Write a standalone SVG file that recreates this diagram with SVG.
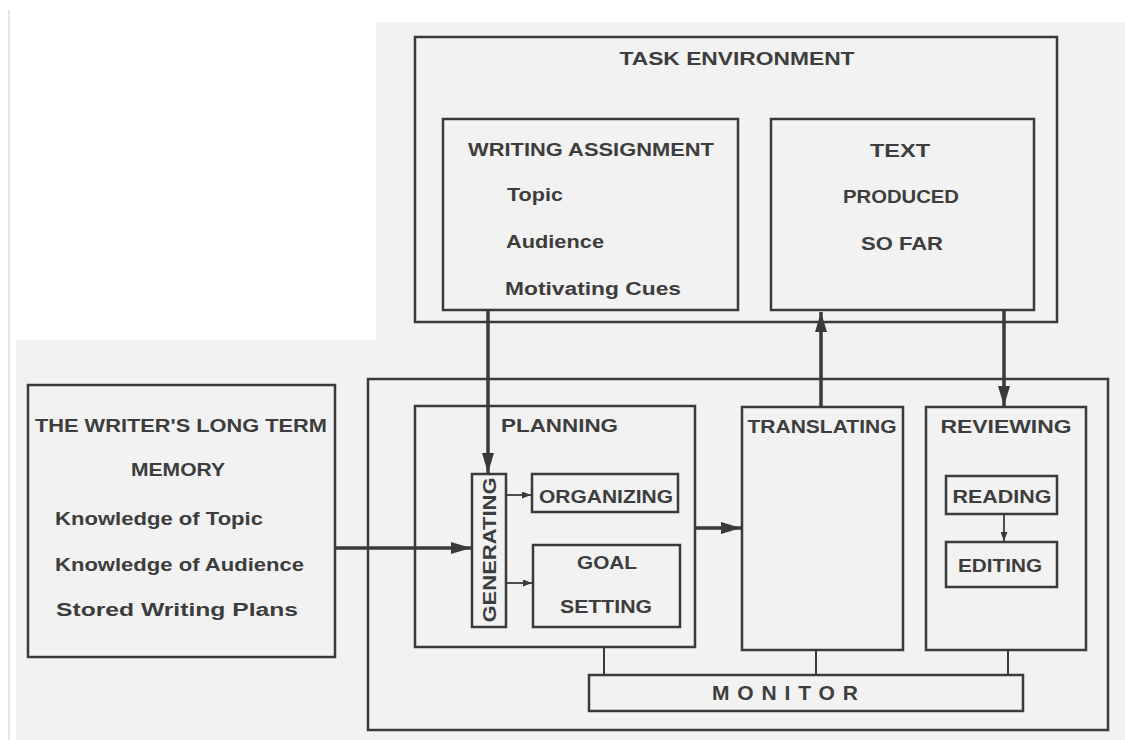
<svg xmlns="http://www.w3.org/2000/svg" width="1125" height="740" viewBox="0 0 1125 740">
<defs>
<style>
.box{fill:none;stroke:#3a3a3a;stroke-width:2.5}
.wire{fill:none;stroke:#3a3a3a;stroke-width:2}
.thick{fill:none;stroke:#3a3a3a;stroke-width:3.5}
.thin{fill:none;stroke:#3a3a3a;stroke-width:1.8}
text{font-family:"Liberation Sans",Arial,sans-serif;fill:#3d3d3d;font-weight:bold}
.cap{font-size:19px}
.low{font-size:18px}
.mon{font-size:21px}
</style>
<marker id="big" viewBox="0 0 20 12" refX="20" refY="6" markerWidth="20" markerHeight="12" markerUnits="userSpaceOnUse" orient="auto">
<path d="M0,0 L20,6 L0,12 z" fill="#3a3a3a"/>
</marker>
<marker id="small" viewBox="0 0 9 7" refX="9" refY="3.5" markerWidth="9" markerHeight="7" markerUnits="userSpaceOnUse" orient="auto">
<path d="M0,0 L9,3.5 L0,7 z" fill="#3a3a3a"/>
</marker>
</defs>
<rect x="0" y="0" width="1125" height="740" fill="#ffffff"/>
<rect x="376" y="22" width="749" height="718" fill="#f2f2f2"/>
<rect x="16" y="340" width="362" height="400" fill="#f2f2f2"/>
<line x1="9" y1="10" x2="9" y2="740" stroke="#dddddd" stroke-width="1.5"/>

<g id="task-environment">
<rect class="box" x="415" y="37" width="642" height="285"/>
<text class="cap" x="737" y="65" text-anchor="middle" textLength="235" lengthAdjust="spacingAndGlyphs">TASK ENVIRONMENT</text>
</g>
<g id="writing-assignment">
<rect class="box" x="443" y="119" width="295" height="191"/>
<text class="cap" x="468" y="156" textLength="246" lengthAdjust="spacingAndGlyphs">WRITING ASSIGNMENT</text>
<text class="low" x="507" y="201" textLength="56" lengthAdjust="spacingAndGlyphs">Topic</text>
<text class="low" x="506" y="248" textLength="98" lengthAdjust="spacingAndGlyphs">Audience</text>
<text class="low" x="505" y="295" textLength="176" lengthAdjust="spacingAndGlyphs">Motivating Cues</text>
</g>
<g id="text-produced">
<rect class="box" x="771" y="119" width="263" height="191"/>
<text class="cap" x="900" y="157" text-anchor="middle" textLength="60" lengthAdjust="spacingAndGlyphs">TEXT</text>
<text class="cap" x="901" y="203" text-anchor="middle" textLength="116" lengthAdjust="spacingAndGlyphs">PRODUCED</text>
<text class="cap" x="902" y="250" text-anchor="middle" textLength="82" lengthAdjust="spacingAndGlyphs">SO FAR</text>
</g>
<g id="long-term-memory">
<rect class="box" x="28" y="385" width="307" height="272"/>
<text class="cap" x="181" y="432" text-anchor="middle" textLength="292" lengthAdjust="spacingAndGlyphs">THE WRITER'S LONG TERM</text>
<text class="cap" x="178" y="476" text-anchor="middle" textLength="94" lengthAdjust="spacingAndGlyphs">MEMORY</text>
<text class="low" x="55" y="525" textLength="208" lengthAdjust="spacingAndGlyphs">Knowledge of Topic</text>
<text class="low" x="55" y="571" textLength="249" lengthAdjust="spacingAndGlyphs">Knowledge of Audience</text>
<text class="low" x="56" y="616" textLength="242" lengthAdjust="spacingAndGlyphs">Stored Writing Plans</text>
</g>
<g id="writing-process">
<rect class="box" x="368" y="379" width="740" height="351"/>
</g>
<g id="planning">
<rect class="box" x="415" y="406" width="280" height="241"/>
<text class="cap" x="501" y="432" textLength="117" lengthAdjust="spacingAndGlyphs">PLANNING</text>
</g>
<g id="generating">
<rect class="box" x="472" y="474" width="34" height="153"/>
<text class="cap" transform="translate(496,550) rotate(-90)" x="0" y="0" text-anchor="middle" textLength="145" lengthAdjust="spacingAndGlyphs">GENERATING</text>
</g>
<g id="organizing">
<rect class="box" x="532" y="474" width="146" height="38"/>
<text class="cap" x="606" y="503" text-anchor="middle" textLength="134" lengthAdjust="spacingAndGlyphs">ORGANIZING</text>
</g>
<g id="goal-setting">
<rect class="box" x="533" y="545" width="147" height="82"/>
<text class="cap" x="607" y="569" text-anchor="middle" textLength="60" lengthAdjust="spacingAndGlyphs">GOAL</text>
<text class="cap" x="606" y="613" text-anchor="middle" textLength="92" lengthAdjust="spacingAndGlyphs">SETTING</text>
</g>
<g id="translating">
<rect class="box" x="742" y="407" width="161" height="243"/>
<text class="cap" x="822" y="433" text-anchor="middle" textLength="149" lengthAdjust="spacingAndGlyphs">TRANSLATING</text>
</g>
<g id="reviewing">
<rect class="box" x="926" y="407" width="160" height="243"/>
<text class="cap" x="1006" y="433" text-anchor="middle" textLength="131" lengthAdjust="spacingAndGlyphs">REVIEWING</text>
</g>
<g id="reading">
<rect class="box" x="946" y="476" width="111" height="38"/>
<text class="cap" x="1002" y="503" text-anchor="middle" textLength="99" lengthAdjust="spacingAndGlyphs">READING</text>
</g>
<g id="editing">
<rect class="box" x="946" y="542" width="111" height="45"/>
<text class="cap" x="1000" y="572" text-anchor="middle" textLength="84" lengthAdjust="spacingAndGlyphs">EDITING</text>
</g>
<g id="monitor">
<rect class="box" x="589" y="675" width="434" height="36"/>
<text class="mon" x="712" y="700" textLength="146" lengthAdjust="spacing">MONITOR</text>
</g>

<g id="connectors">
<line class="thick" x1="488" y1="311" x2="488" y2="473" marker-end="url(#big)"/>
<line class="thick" x1="336" y1="548" x2="471" y2="548" marker-end="url(#big)"/>
<line class="thick" x1="696" y1="528" x2="741" y2="528" marker-end="url(#big)"/>
<line class="thick" x1="821" y1="406" x2="821" y2="312" marker-end="url(#big)"/>
<line class="thick" x1="1004" y1="311" x2="1004" y2="406" marker-end="url(#big)"/>
<line class="thin" x1="507" y1="495" x2="531" y2="495" marker-end="url(#small)"/>
<line class="thin" x1="507" y1="583" x2="532" y2="583" marker-end="url(#small)"/>
<line class="thin" x1="1004" y1="515" x2="1004" y2="541" marker-end="url(#small)"/>
<line class="wire" x1="604" y1="648" x2="604" y2="674"/>
<line class="wire" x1="816" y1="651" x2="816" y2="674"/>
<line class="wire" x1="1008" y1="651" x2="1008" y2="674"/>
</g>
</svg>
